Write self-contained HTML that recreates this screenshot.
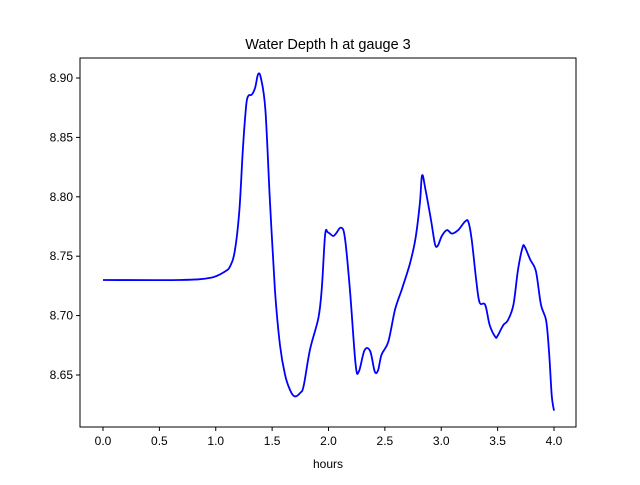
<!DOCTYPE html>
<html><head><meta charset="utf-8"><style>body{margin:0;background:#fff}svg{font-family:"Liberation Sans","DejaVu Sans",sans-serif}</style></head>
<body>
<svg id="chart" width="640" height="480" viewBox="0 0 640 480" xmlns="http://www.w3.org/2000/svg">
<rect width="640" height="480" fill="#fff"/>
<g id="plot"></g>
</svg>
<script>
const hours=[0,0.68,0.95,1.08,1.13,1.17,1.21,1.24,1.27,1.29,1.32,1.35,1.375,1.40,1.44,1.48,1.525,1.57,1.615,1.66,1.70,1.75,1.78,1.835,1.91,1.94,1.97,1.995,2.04,2.066,2.11,2.145,2.19,2.24,2.27,2.32,2.37,2.41,2.44,2.47,2.53,2.59,2.65,2.72,2.77,2.81,2.83,2.86,2.91,2.945,2.97,3.005,3.05,3.095,3.15,3.21,3.24,3.27,3.31,3.34,3.39,3.43,3.48,3.50,3.55,3.59,3.64,3.68,3.72,3.74,3.79,3.84,3.885,3.93,3.955,3.98,4.0];
const depth=[8.730,8.730,8.7317,8.737,8.742,8.755,8.789,8.839,8.877,8.885,8.886,8.892,8.903,8.900,8.873,8.797,8.722,8.675,8.650,8.637,8.632,8.635,8.641,8.671,8.698,8.722,8.768,8.770,8.767,8.769,8.774,8.766,8.722,8.659,8.653,8.671,8.670,8.653,8.654,8.667,8.678,8.705,8.722,8.743,8.764,8.794,8.818,8.806,8.780,8.760,8.759,8.767,8.772,8.769,8.772,8.779,8.779,8.764,8.730,8.711,8.709,8.692,8.682,8.683,8.692,8.696,8.709,8.738,8.757,8.758,8.747,8.737,8.709,8.696,8.671,8.633,8.620];
const xTicks=[0,0.5,1,1.5,2,2.5,3,3.5,4];
const xTickLabels=["0.0","0.5","1.0","1.5","2.0","2.5","3.0","3.5","4.0"];
const yTicks=[8.65,8.70,8.75,8.80,8.85,8.90];
const yTickLabels=["8.65","8.70","8.75","8.80","8.85","8.90"];
const L=80,R=576,T=58,B=427;
const xs=h=>103+112.75*h;
const ys=v=>78+(8.90-v)*1188;
const NS="http://www.w3.org/2000/svg";
const g=document.getElementById('plot');
function mk(tag,attrs,text){const e=document.createElementNS(NS,tag);for(const k in attrs)e.setAttribute(k,attrs[k]);if(text!==undefined)e.textContent=text;g.appendChild(e);return e;}
const P=hours.map((h,i)=>[xs(h),ys(depth[i])]);
let d='M'+P[0][0].toFixed(1)+','+P[0][1].toFixed(1);
for(let i=0;i<P.length-1;i++){
  const p0=P[Math.max(0,i-1)],p1=P[i],p2=P[i+1],p3=P[Math.min(P.length-1,i+2)];
  const t=1/6;
  const c1=[p1[0]+(p2[0]-p0[0])*t,p1[1]+(p2[1]-p0[1])*t];
  const c2=[p2[0]-(p3[0]-p1[0])*t,p2[1]-(p3[1]-p1[1])*t];
  d+=' C'+c1[0].toFixed(1)+','+c1[1].toFixed(1)+' '+c2[0].toFixed(1)+','+c2[1].toFixed(1)+' '+p2[0].toFixed(1)+','+p2[1].toFixed(1);
}
const line=mk('path',{d:d,fill:'none',stroke:'#0000ff','stroke-width':1.8,'stroke-linejoin':'round'});


const frame=mk('rect',{x:L,y:T,width:R-L,height:B-T,fill:'none',stroke:'#000','stroke-width':1});


xTicks.forEach((t,i)=>{const x=xs(t);
const tk=mk('line',{x1:x,x2:x,y1:B,y2:B+4,stroke:'#000'});


const lb=mk('text',{x:x,y:B+18,'font-size':12,'text-anchor':'middle'},xTickLabels[i]);

});
yTicks.forEach((t,i)=>{const y=ys(t);
const tk=mk('line',{x1:L-4,x2:L,y1:y,y2:y,stroke:'#000'});


const lb=mk('text',{x:L-7,y:y+4,'font-size':12,'text-anchor':'end'},yTickLabels[i]);

});
const title=mk('text',{x:328,y:49,'font-size':14.5,'text-anchor':'middle'},'Water Depth h at gauge 3');


const xl=mk('text',{x:328,y:468,'font-size':12,'text-anchor':'middle'},'hours');


</script>
</body></html>
